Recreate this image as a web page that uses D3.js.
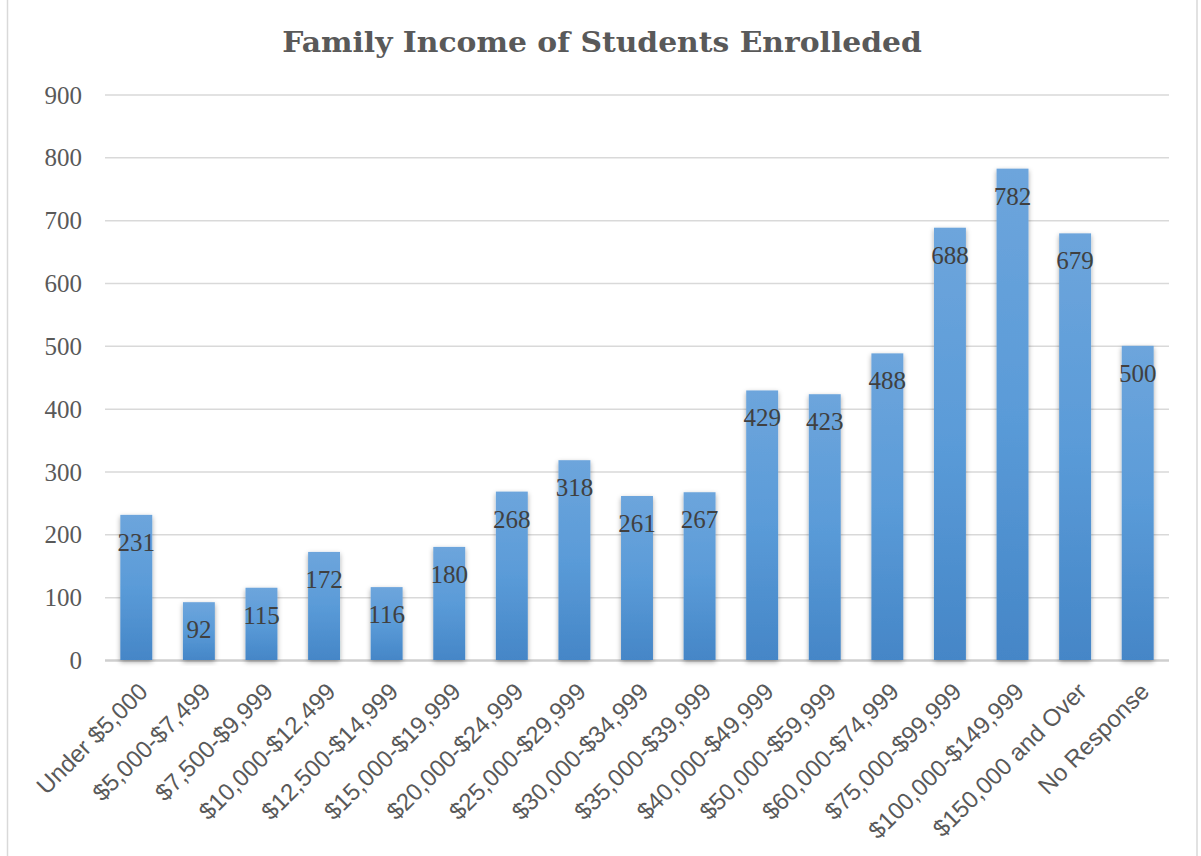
<!DOCTYPE html>
<html>
<head>
<meta charset="utf-8">
<script src="https://cdn.jsdelivr.net/npm/d3@7"></script>
<style>
  html, body { margin: 0; padding: 0; background: #fff; }
  svg { display: block; }
</style>
</head>
<body>
<script>
// Family income brackets and enrolment counts
const categories = [
  "Under $5,000", "$5,000-$7,499", "$7,500-$9,999", "$10,000-$12,499",
  "$12,500-$14,999", "$15,000-$19,999", "$20,000-$24,999", "$25,000-$29,999",
  "$30,000-$34,999", "$35,000-$39,999", "$40,000-$49,999", "$50,000-$59,999",
  "$60,000-$74,999", "$75,000-$99,999", "$100,000-$149,999", "$150,000 and Over",
  "No Response"
];
const students = [231, 92, 115, 172, 116, 180, 268, 318, 261, 267, 429, 423, 488, 688, 782, 679, 500];
const yTicks = [0, 100, 200, 300, 400, 500, 600, 700, 800, 900];
const chartTitle = "Family Income of Students Enrolleded";

const W = 1201, H = 856;
const plot = { left: 105, right: 1169, top: 94.5, bottom: 660 };

const svg = d3.select("body").append("svg")
  .attr("width", W).attr("height", H);

const defs = svg.append("defs");
const grad = defs.append("linearGradient")
  .attr("id", "barFill").attr("x1", 0).attr("y1", 0).attr("x2", 0).attr("y2", 1);
grad.append("stop").attr("offset", "0%").attr("stop-color", "#6DA5DC");
grad.append("stop").attr("offset", "50%").attr("stop-color", "#5A9BD8");
grad.append("stop").attr("offset", "100%").attr("stop-color", "#4586C7");

const shadow = defs.append("filter").attr("id", "barShadow")
  .attr("x", "-40%").attr("y", "-10%").attr("width", "180%").attr("height", "120%");
shadow.append("feDropShadow")
  .attr("dx", 0).attr("dy", 2).attr("stdDeviation", 2.5)
  .attr("flood-color", "#000").attr("flood-opacity", 0.35);

// chart frame
svg.append("rect")
  .attr("x", 7.5).attr("y", -5).attr("width", 1189.5).attr("height", H + 10)
  .attr("fill", "#fff").attr("stroke", "#d9d9d9").attr("stroke-width", 1.5);

// title: a wide bold serif, stretched horizontally to a 640px run
const titleWidth = 640, titleCx = 602;
const title = svg.append("text")
  .attr("x", 0).attr("y", 52)
  .attr("text-anchor", "middle")
  .attr("font-family", "'DejaVu Serif', 'Liberation Serif', serif")
  .attr("font-weight", "bold")
  .attr("font-size", 27)
  .attr("fill", "#595959")
  .text(chartTitle);
const natural = title.node().getComputedTextLength();
title.attr("transform", `translate(${titleCx},0) scale(${titleWidth / natural},1)`);

const x = d3.scaleBand()
  .domain(categories)
  .range([plot.left, plot.right])
  .paddingInner(0.49).paddingOuter(0.245);

const y = d3.scaleLinear()
  .domain([0, 900])
  .range([plot.bottom, plot.top]);

// horizontal gridlines and value axis labels
const yAxis = d3.axisLeft(y).tickValues(yTicks).tickSize(0).tickPadding(0);
const gy = svg.append("g").attr("transform", `translate(${plot.left},0)`).call(yAxis);
gy.select(".domain").remove();
gy.selectAll(".tick text")
  .attr("x", -23)
  .attr("dy", "0.34em")
  .attr("font-family", "'Liberation Serif', 'DejaVu Serif', serif")
  .attr("font-size", 25)
  .attr("fill", "#595959");
gy.selectAll(".tick").append("line")
  .attr("x1", 0).attr("x2", plot.right - plot.left)
  .attr("stroke", d => d === 0 ? "#cfcfcf" : "#d9d9d9")
  .attr("stroke-width", d => d === 0 ? 2.5 : 1.5);

// bars
svg.append("g").selectAll("rect")
  .data(students)
  .join("rect")
  .attr("x", (d, i) => x(categories[i]))
  .attr("y", d => y(d))
  .attr("width", x.bandwidth())
  .attr("height", d => y(0) - y(d))
  .attr("fill", "url(#barFill)")
  .attr("filter", "url(#barShadow)");

// value labels inside the top of each bar
svg.append("g").selectAll("text")
  .data(students)
  .join("text")
  .attr("x", (d, i) => x(categories[i]) + x.bandwidth() / 2)
  .attr("y", d => y(d) + 36)
  .attr("text-anchor", "middle")
  .attr("font-family", "'Liberation Serif', 'DejaVu Serif', serif")
  .attr("font-size", 25)
  .attr("fill", "#404040")
  .text(d => d);

// rotated category labels
const xAxis = d3.axisBottom(x).tickSize(0).tickPadding(0);
const gx = svg.append("g").attr("transform", `translate(0,${plot.bottom})`).call(xAxis);
gx.select(".domain").remove();
gx.selectAll(".tick text")
  .attr("text-anchor", "end")
  .attr("x", 0).attr("y", 0).attr("dy", 0)
  .attr("transform", "translate(13,33) rotate(-45)")
  .attr("font-family", "'Liberation Sans', Arial, sans-serif")
  .attr("font-size", 24)
  .attr("fill", "#595959");
</script>
</body>
</html>
